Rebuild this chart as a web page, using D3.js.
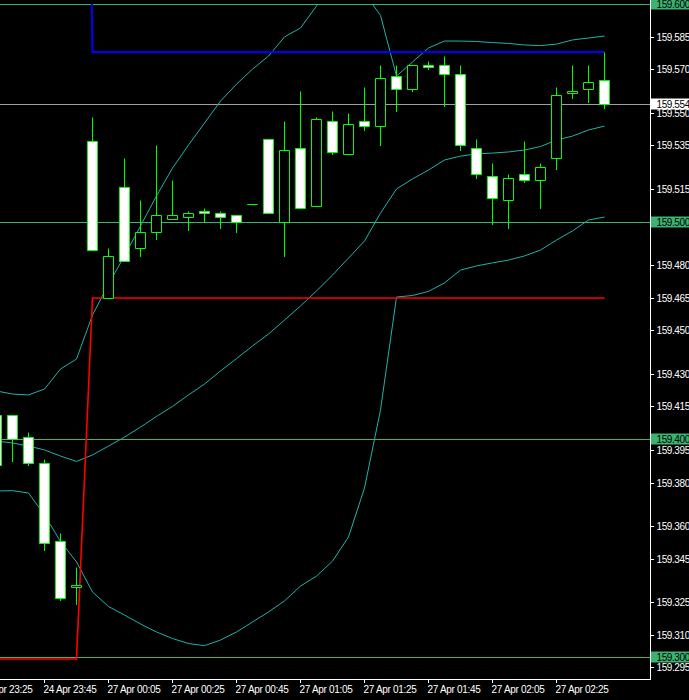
<!DOCTYPE html>
<html><head><meta charset="utf-8">
<script src="https://cdn.jsdelivr.net/npm/d3@7"></script>
<style>html,body{margin:0;padding:0;background:#000;overflow:hidden}svg{display:block}</style>
</head><body><svg id="c" width="689" height="700"></svg>
<script>
// ---- data ----
const leadTime = "24 Apr 23:25";
const barTimes = ["24 Apr 23:30","24 Apr 23:35","24 Apr 23:40","24 Apr 23:45","24 Apr 23:50","24 Apr 23:55",
  "27 Apr 00:00","27 Apr 00:05","27 Apr 00:10","27 Apr 00:15","27 Apr 00:20","27 Apr 00:25","27 Apr 00:30",
  "27 Apr 00:35","27 Apr 00:40","27 Apr 00:45","27 Apr 00:50","27 Apr 00:55","27 Apr 01:00","27 Apr 01:05",
  "27 Apr 01:10","27 Apr 01:15","27 Apr 01:20","27 Apr 01:25","27 Apr 01:30","27 Apr 01:35","27 Apr 01:40",
  "27 Apr 01:45","27 Apr 01:50","27 Apr 01:55","27 Apr 02:00","27 Apr 02:05","27 Apr 02:10","27 Apr 02:15",
  "27 Apr 02:20","27 Apr 02:25","27 Apr 02:30","27 Apr 02:35","27 Apr 02:40"];
const openP  = [159.411,159.411,159.401,159.389,159.353,159.332,159.537,159.465,159.516,159.488,159.495,159.501,159.502,
  159.505,159.504,159.503,159.508,159.538,159.500,159.534,159.507,159.546,159.531,159.546,159.544,159.567,159.561,
  159.572,159.572,159.568,159.534,159.521,159.510,159.522,159.519,159.529,159.559,159.561,159.565];
const highP  = [159.412,159.411,159.403,159.391,159.357,159.341,159.548,159.488,159.529,159.510,159.535,159.519,159.505,
  159.506,159.505,159.503,159.508,159.538,159.546,159.560,159.548,159.551,159.550,159.562,159.572,159.572,159.572,
  159.574,159.576,159.572,159.538,159.527,159.522,159.537,159.527,159.562,159.572,159.572,159.578];
const lowP   = [159.387,159.390,159.388,159.349,159.326,159.324,159.487,159.465,159.482,159.484,159.492,159.501,159.496,
  159.500,159.497,159.495,159.508,159.504,159.484,159.506,159.507,159.531,159.531,159.542,159.535,159.551,159.560,
  159.570,159.553,159.533,159.520,159.499,159.497,159.518,159.506,159.524,159.557,159.555,159.552];
const closeP = [159.388,159.400,159.389,159.352,159.327,159.333,159.487,159.484,159.482,159.495,159.503,159.503,159.504,
  159.504,159.502,159.500,159.508,159.504,159.533,159.506,159.547,159.532,159.545,159.544,159.566,159.561,159.572,
  159.571,159.568,159.535,159.522,159.511,159.520,159.519,159.525,159.558,159.560,159.564,159.554];
const bbUpper = [159.4223,159.4209,159.4205,159.4232,159.4324,159.4370,159.4572,159.4715,159.4844,159.4982,159.5120,
  159.5248,159.5354,159.5455,159.5556,159.5634,159.5703,159.5763,159.5851,159.5892,159.5993,159.6071,159.6118,
  159.6052,159.5950,159.5671,159.5736,159.5800,159.5832,159.5832,159.5830,159.5825,159.5821,159.5814,159.5811,
  159.5818,159.5837,159.5846,159.5855];
const bbMiddle = [159.3993,159.3984,159.3970,159.3952,159.3924,159.3899,159.3929,159.3970,159.4011,159.4057,159.4106,
  159.4152,159.4205,159.4255,159.4315,159.4372,159.4430,159.4485,159.4549,159.4614,159.4683,159.4756,159.4834,
  159.4913,159.5041,159.5152,159.5198,159.5239,159.5285,159.5303,159.5313,159.5317,159.5322,159.5331,159.5347,
  159.5377,159.5395,159.5423,159.5441];
const bbLower = [159.3763,159.3765,159.3754,159.3653,159.3531,159.3437,159.3299,159.3232,159.3193,159.3152,159.3115,
  159.3085,159.3062,159.3052,159.3078,159.3115,159.3161,159.3207,159.3258,159.3326,159.3372,159.3441,159.3552,
  159.3777,159.4136,159.4655,159.4662,159.4681,159.4720,159.4779,159.4798,159.4812,159.4825,159.4844,159.4871,
  159.4917,159.4959,159.5009,159.5023];
const dayHigh = [160.05,160.05,160.05,160.05,160.05,160.05,159.578,159.578,159.578,159.578,159.578,159.578,159.578,
  159.578,159.578,159.578,159.578,159.578,159.578,159.578,159.578,159.578,159.578,159.578,159.578,159.578,159.578,
  159.578,159.578,159.578,159.578,159.578,159.578,159.578,159.578,159.578,159.578,159.578,159.578];
const dayLow = [159.2993,159.2993,159.2993,159.2993,159.2993,159.2993,159.465,159.465,159.465,159.465,159.465,159.465,
  159.465,159.465,159.465,159.465,159.465,159.465,159.465,159.465,159.465,159.465,159.465,159.465,159.465,159.465,
  159.465,159.465,159.465,159.465,159.465,159.465,159.465,159.465,159.465,159.465,159.465,159.465,159.465];
const levelLines = [159.600, 159.500, 159.400, 159.300];
const bidPrice = 159.554;
const priceTicks = [159.585,159.570,159.550,159.535,159.515,159.480,159.465,159.450,159.430,159.415,
  159.395,159.380,159.360,159.345,159.325,159.310,159.295];
const timeTicks = ["24 Apr 23:25","24 Apr 23:45","27 Apr 00:05","27 Apr 00:25","27 Apr 00:45",
  "27 Apr 01:05","27 Apr 01:25","27 Apr 01:45","27 Apr 02:05","27 Apr 02:25"];

// ---- chart ----
const W = 689, H = 700, plotR = 650, plotB = 679;
const FONT = "'Liberation Sans', Arial, sans-serif";
const svg = d3.select("#c");
svg.append("rect").attr("width", W).attr("height", H).attr("fill", "#000");

const x = d3.scalePoint().domain([leadTime, ...barTimes]).range([-19.5, 604.5]);
const y = d3.scaleLinear().domain([159.300, 159.600]).range([657, 4.5]);
const py = v => Math.floor(y(v)) + 0.5;

svg.append("clipPath").attr("id", "plot").append("rect")
  .attr("x", 0).attr("y", 4).attr("width", plotR).attr("height", plotB - 4);
const g = svg.append("g").attr("clip-path", "url(#plot)");

// level lines
g.selectAll(".lvl").data(levelLines).join("line")
  .attr("x1", 0).attr("x2", plotR).attr("y1", d => py(d)).attr("y2", d => py(d))
  .attr("stroke", "#3CB371").attr("stroke-width", 1);
// bid line
g.append("line").attr("x1", 0).attr("x2", plotR).attr("y1", py(bidPrice)).attr("y2", py(bidPrice))
  .attr("stroke", "#a0a0a0").attr("stroke-width", 1);

const bars = barTimes.map((t, i) => ({t, o: openP[i], h: highP[i], l: lowP[i], c: closeP[i],
  up: bbUpper[i], mid: bbMiddle[i], lo: bbLower[i], dh: dayHigh[i], dl: dayLow[i]}));

// Bollinger bands
["up", "mid", "lo"].forEach(k => {
  g.append("path").datum(bars)
    .attr("d", d3.line().x(d => x(d.t)).y(d => y(d[k])))
    .attr("fill", "none").attr("stroke", "#20B2AA").attr("stroke-width", 1);
});
// day high / low
g.append("path").datum(bars).attr("d", d3.line().x(d => x(d.t)).y(d => Math.round(y(d.dh))))
  .attr("fill", "none").attr("stroke", "#0000ff").attr("stroke-width", 2);
g.append("path").datum(bars).attr("d", d3.line().x(d => x(d.t)).y(d => Math.round(y(d.dl))))
  .attr("fill", "none").attr("stroke", "#ff0000").attr("stroke-width", 1.6);

// candles
const cg = g.append("g");
cg.selectAll(".wick").data(bars).join("line")
  .attr("x1", d => x(d.t)).attr("x2", d => x(d.t))
  .attr("y1", d => py(d.h)).attr("y2", d => py(d.l) + 0.5)
  .attr("stroke", "#00ff00").attr("stroke-width", 1);
cg.selectAll(".body").data(bars).join("path")
  .attr("d", d => {
    const cx = x(d.t), t = Math.min(py(d.o), py(d.c)), b = Math.max(py(d.o), py(d.c));
    return `M${cx - 5},${t}H${cx + 5}V${b}H${cx - 5}Z`;
  })
  .attr("fill", d => d.o > d.c ? "#ffffff" : "#000000")
  .attr("stroke", "#00ff00").attr("stroke-width", 1);

// borders
svg.append("line").attr("x1", plotR + 0.5).attr("x2", plotR + 0.5).attr("y1", 0).attr("y2", plotB + 1)
  .attr("stroke", "#fff");
svg.append("line").attr("x1", 0).attr("x2", plotR + 1).attr("y1", plotB + 0.5).attr("y2", plotB + 0.5)
  .attr("stroke", "#fff");

// price axis
const PFS = "10px", PLS = "-0.4px";
const ax = svg.append("g");
ax.selectAll(".pt").data(priceTicks).join("line")
  .attr("x1", plotR + 1).attr("x2", plotR + 4).attr("y1", d => py(d)).attr("y2", d => py(d))
  .attr("stroke", "#fff");
ax.selectAll(".pl").data(priceTicks).join("text")
  .attr("x", 656.5).attr("y", d => py(d) + 3.5).text(d => d.toFixed(3))
  .attr("fill", "#fff").attr("font-family", FONT).attr("font-size", PFS).attr("letter-spacing", PLS);
// highlighted level labels
const hl = ax.selectAll(".hl").data(levelLines).join("g");
hl.append("rect").attr("x", plotR + 1).attr("y", d => py(d) - 6).attr("width", 40).attr("height", 11)
  .attr("fill", "#3CB371");
hl.append("text").attr("x", 656.5).attr("y", d => py(d) + 3.5).text(d => d.toFixed(3))
  .attr("fill", "#000").attr("font-family", FONT).attr("font-size", PFS).attr("letter-spacing", PLS);
// bid label
ax.append("rect").attr("x", plotR + 1).attr("y", py(bidPrice) - 6).attr("width", 40).attr("height", 11)
  .attr("fill", "#fff");
ax.append("text").attr("x", 656.5).attr("y", py(bidPrice) + 3.5).text(bidPrice.toFixed(3))
  .attr("fill", "#000").attr("font-family", FONT).attr("font-size", PFS).attr("letter-spacing", PLS);

// time axis
const tx = svg.append("g");
tx.selectAll(".tt").data(timeTicks).join("line")
  .attr("x1", d => x(d)).attr("x2", d => x(d)).attr("y1", plotB + 1).attr("y2", plotB + 4)
  .attr("stroke", "#fff");
tx.selectAll(".tl").data(timeTicks).join("text")
  .attr("x", d => x(d) - 1).attr("y", 692.5).text(d => d)
  .attr("fill", "#fff").attr("font-family", FONT).attr("font-size", "10px").attr("letter-spacing", "-0.3px");
</script>
</body></html>
